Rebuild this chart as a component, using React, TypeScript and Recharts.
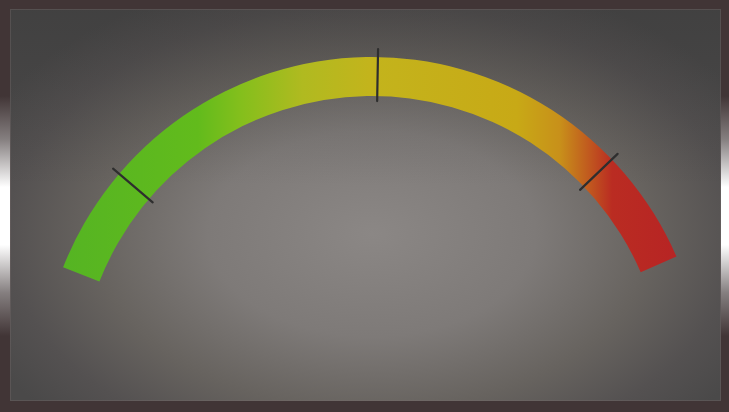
import React from 'react';
import { RadialBarChart, RadialBar, PolarAngleAxis } from 'recharts';

// ---- data ----
const gaugeDomain = [0, 100];
const gaugeData = [{ name: 'gauge', value: 100 }];
const tickValues = [14, 51.5, 85];

// ---- layout / style constants ----
const W = 729;
const H = 412;
const CX = 372;
const CY = 389;
const INNER_R = 293;
const OUTER_R = 332;
const START_ANGLE = 158.5;
const END_ANGLE = 23.5;
const TICK_IN = 288;
const TICK_OUT = 340;

const gradientStops = [
  { offset: '0%', color: '#55b423' },
  { offset: '22%', color: '#62bb1c' },
  { offset: '29%', color: '#84bf1c' },
  { offset: '39%', color: '#b0ba20' },
  { offset: '50%', color: '#c3b41c' },
  { offset: '74%', color: '#c8a916' },
  { offset: '81%', color: '#c8901a' },
  { offset: '86%', color: '#c0561f' },
  { offset: '89.5%', color: '#ba2c22' },
  { offset: '100%', color: '#b72424' },
];

const RAD = Math.PI / 180;

const GaugeTick = (props: any) => {
  const angle = props.payload?.coordinate ?? 0;
  const c = Math.cos(-angle * RAD);
  const s = Math.sin(-angle * RAD);
  return (
    <line
      x1={CX + TICK_IN * c}
      y1={CY + TICK_IN * s}
      x2={CX + TICK_OUT * c}
      y2={CY + TICK_OUT * s}
      stroke="#2e2e2e"
      strokeWidth={2.2}
      strokeLinecap="round"
    />
  );
};

const stripStyle = (side: 'left' | 'right'): React.CSSProperties => ({
  position: 'absolute',
  top: 96,
  height: 240,
  width: side === 'left' ? 10 : 8,
  [side]: 0,
  background:
    'linear-gradient(to bottom, rgba(255,255,255,0) 0%, rgba(200,200,200,0.5) 18%, #ffffff 38%, #ffffff 62%, rgba(200,200,200,0.5) 82%, rgba(255,255,255,0) 100%)',
});

export default function App() {
  return (
    <div
      style={{
        position: 'absolute',
        left: 0,
        top: 0,
        width: W,
        height: H,
        background: '#413536',
        overflow: 'hidden',
      }}
    >
      <div style={stripStyle('left')} />
      <div style={stripStyle('right')} />
      <div
        style={{
          position: 'absolute',
          left: 10,
          top: 9,
          width: 711,
          height: 392,
          boxShadow: 'inset 0 0 0 1px rgba(120,110,110,0.35)',
          background:
            'linear-gradient(to bottom, rgba(40,40,40,0.25) 0%, rgba(40,40,40,0) 45%), radial-gradient(ellipse 430px 270px at 362px 225px, #8b8785 0%, #7e7a78 38%, #67635f 65%, #545151 85%, #4a4949 100%)',
        }}
      />
      <div style={{ position: 'absolute', left: 0, top: 0 }}>
        <RadialBarChart
          width={W}
          height={H}
          cx={CX}
          cy={CY}
          innerRadius={INNER_R}
          outerRadius={OUTER_R}
          startAngle={START_ANGLE}
          endAngle={END_ANGLE}
          data={gaugeData}
          barCategoryGap={0}
          barGap={0}
          margin={{ top: 0, right: 0, bottom: 0, left: 0 }}
        >
          <defs>
            <linearGradient id="gaugeGrad" x1="0" y1="0" x2="1" y2="0">
              {gradientStops.map((s) => (
                <stop key={s.offset} offset={s.offset} stopColor={s.color} />
              ))}
            </linearGradient>
          </defs>
          <PolarAngleAxis
            type="number"
            domain={gaugeDomain}
            ticks={tickValues}
            axisLine={false}
            tickLine={false}
            tick={<GaugeTick />}
          />
          <RadialBar
            dataKey="value"
            fill="url(#gaugeGrad)"
            stroke="none"
            isAnimationActive={false}
          />
        </RadialBarChart>
      </div>
    </div>
  );
}
